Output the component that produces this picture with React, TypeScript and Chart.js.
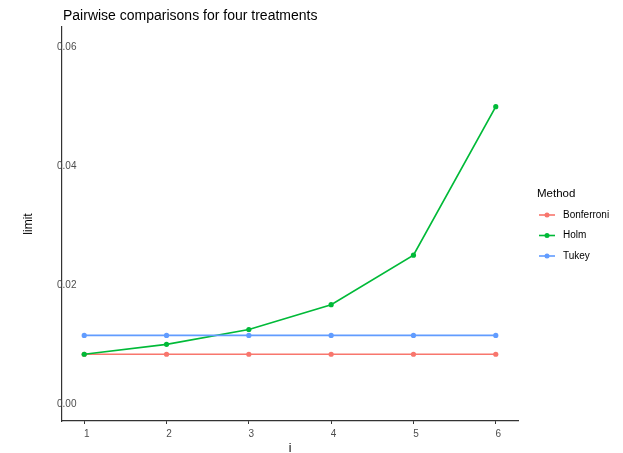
import React, { useEffect, useRef } from "react";
import { Chart, registerables } from "chart.js";

Chart.register(...registerables);

const iValues = [1, 2, 3, 4, 5, 6];
const bonferroni = [0.00833, 0.00833, 0.00833, 0.00833, 0.00833, 0.00833];
const holm = [0.00833, 0.01, 0.0125, 0.01667, 0.025, 0.05];
const tukey = [0.0115, 0.0115, 0.0115, 0.0115, 0.0115, 0.0115];
const yTicks = [0, 0.02, 0.04, 0.06];
const methods = ["Bonferroni", "Holm", "Tukey"];
const colors = ["#F8766D", "#00BA38", "#619CFF"];
const titleText = "Pairwise comparisons for four treatments";
const FONT = '"Liberation Sans", Arial, sans-serif';

const decorPlugin = {
  id: "decor",
  afterDraw(chart: any) {
    const ctx = chart.ctx;
    const area = chart.chartArea;
    ctx.save();
    ctx.fillStyle = "#000";
    ctx.textBaseline = "alphabetic";
    ctx.textAlign = "left";
    ctx.font = `14px ${FONT}`;
    ctx.fillText(titleText, area.left + 1, 20);

    ctx.font = `12px ${FONT}`;
    ctx.textAlign = "center";
    ctx.fillText("i", (area.left + area.right) / 2, 452);

    ctx.save();
    ctx.translate(32, (area.top + area.bottom) / 2);
    ctx.rotate(-Math.PI / 2);
    ctx.textBaseline = "alphabetic";
    ctx.fillText("limit", 0, 0);
    ctx.restore();

    // legend
    ctx.textAlign = "left";
    ctx.textBaseline = "middle";
    ctx.font = `11.5px ${FONT}`;
    ctx.fillText("Method", 537, 194);
    ctx.font = `10px ${FONT}`;
    methods.forEach((m, k) => {
      const y = 215 + k * 20.5;
      ctx.strokeStyle = colors[k];
      ctx.lineWidth = 1.6;
      ctx.beginPath();
      ctx.moveTo(539, y);
      ctx.lineTo(555, y);
      ctx.stroke();
      ctx.fillStyle = colors[k];
      ctx.beginPath();
      ctx.arc(547, y, 2.5, 0, Math.PI * 2);
      ctx.fill();
      ctx.fillStyle = "#000";
      ctx.fillText(m, 563, y);
    });
    ctx.restore();
  },
};

export default function App() {
  const ref = useRef<HTMLCanvasElement>(null);
  useEffect(() => {
    const series = [bonferroni, holm, tukey];
    const chart = new Chart(ref.current!, {
      type: "line",
      data: {
        datasets: series.map((vals, k) => ({
          label: methods[k],
          data: iValues.map((x, j) => ({ x, y: vals[j] })),
          borderColor: colors[k],
          backgroundColor: colors[k],
          borderWidth: 1.7,
          pointRadius: 2.6,
          pointBorderWidth: 0,
          pointHoverRadius: 2.6,
          tension: 0,
          order: 3 - k,
        })),
      },
      options: {
        animation: false,
        responsive: false,
        maintainAspectRatio: false,
        layout: { padding: { left: 0, top: 27, right: 105, bottom: 0 } },
        plugins: {
          legend: { display: false },
          title: { display: false },
          tooltip: { enabled: false },
        },
        scales: {
          x: {
            type: "linear",
            min: 0.73,
            max: 6.27,
            afterFit: (s: any) => {
              s.height = 32;
            },
            afterBuildTicks: (s: any) => {
              s.ticks = iValues.map((v) => ({ value: v }));
            },
            ticks: {
              color: "#4D4D4D",
              font: { size: 10, family: FONT },
              padding: 4,
              labelOffset: 2.5,
              maxRotation: 0,
              callback: (v: any) => String(v),
            },
            grid: {
              drawOnChartArea: false,
              drawTicks: true,
              tickLength: 3,
              color: "#333333",
              lineWidth: 1,
            },
            border: { display: true, color: "#333333", width: 1.2 },
          },
          y: {
            type: "linear",
            min: -0.0029,
            max: 0.0634,
            afterFit: (s: any) => {
              s.width = 62;
            },
            afterBuildTicks: (s: any) => {
              s.ticks = yTicks.map((v) => ({ value: v }));
            },
            ticks: {
              mirror: true,
              padding: -5,
              color: "#4D4D4D",
              font: { size: 10, family: FONT },
              callback: (v: any) => Number(v).toFixed(2),
            },
            grid: { display: false, drawTicks: false },
            border: { display: true, color: "#333333", width: 1.2 },
          },
        },
      },
      plugins: [decorPlugin],
    });
    return () => chart.destroy();
  }, []);
  return (
    <div style={{ position: "absolute", left: 0, top: 0, width: 623, height: 453, background: "#fff" }}>
      <canvas ref={ref} width={623} height={453} style={{ display: "block" }} />
    </div>
  );
}
